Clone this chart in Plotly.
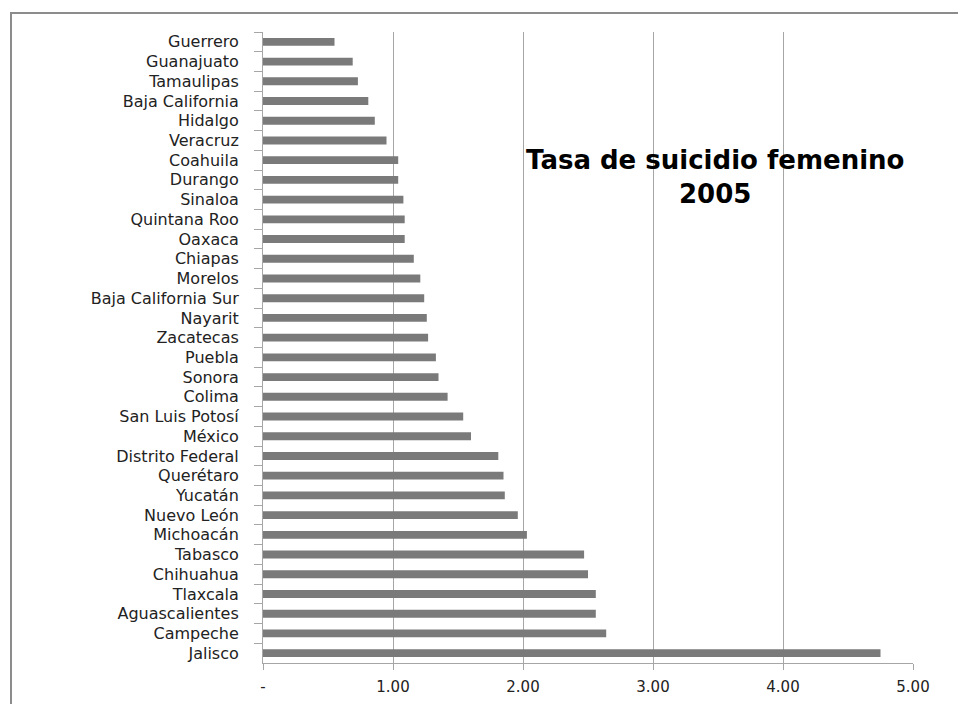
import plotly.graph_objects as go

states = ["Guerrero", "Guanajuato", "Tamaulipas", "Baja California", "Hidalgo",
          "Veracruz", "Coahuila", "Durango", "Sinaloa", "Quintana Roo", "Oaxaca",
          "Chiapas", "Morelos", "Baja California Sur", "Nayarit", "Zacatecas",
          "Puebla", "Sonora", "Colima", "San Luis Potosí", "México",
          "Distrito Federal", "Querétaro", "Yucatán", "Nuevo León", "Michoacán",
          "Tabasco", "Chihuahua", "Tlaxcala", "Aguascalientes", "Campeche", "Jalisco"]
rates = [0.55, 0.69, 0.73, 0.81, 0.86, 0.95, 1.04, 1.04, 1.08, 1.09, 1.09,
         1.16, 1.21, 1.24, 1.26, 1.27, 1.33, 1.35, 1.42, 1.54, 1.60,
         1.81, 1.85, 1.86, 1.96, 2.03, 2.47, 2.50, 2.56, 2.56, 2.64, 4.75]
x_ticks = [0, 1, 2, 3, 4, 5]
x_tick_text = ["-", "1.00", "2.00", "3.00", "4.00", "5.00"]
title_text = "<b>Tasa de suicidio femenino<br>2005</b>"

fig = go.Figure(go.Bar(
    x=rates, y=states, orientation="h",
    marker=dict(color="#7a7a7a", line=dict(width=0)),
    width=0.4,
))

W, H = 958, 704
L, R, T, B = 263, 45, 32, 41
pw, ph = W - L - R, H - T - B

fig.update_layout(
    width=W, height=H, autosize=False,
    margin=dict(l=L, r=R, t=T, b=B, pad=0, autoexpand=False),
    plot_bgcolor="white", paper_bgcolor="white",
    showlegend=False,
    font=dict(family="DejaVu Sans", size=16, color="#222222"),
    xaxis=dict(
        range=[0, 5], tickvals=x_ticks, ticktext=x_tick_text,
        showgrid=True, gridcolor="#a6a6a6", gridwidth=1,
        showline=True, linecolor="#a6a6a6", linewidth=1,
        ticks="outside", ticklen=6, tickcolor="#a6a6a6",
        zeroline=False, fixedrange=True, ticklabelstandoff=4,
        automargin=False, tickfont=dict(size=15),
    ),
    yaxis=dict(
        type="category", categoryorder="array", categoryarray=states,
        range=[len(states) - 0.5, -0.5],
        tickmode="linear", tick0=0, dtick=1,
        showline=True, linecolor="#a6a6a6", linewidth=1,
        ticks="outside", ticklen=8, tickcolor="#a6a6a6", tickson="boundaries",
        showgrid=False, ticklabelstandoff=20, automargin=False,
        tickfont=dict(size=16),
    ),
    annotations=[dict(
        text=title_text, xref="paper", yref="paper",
        x=(715 - L) / pw, y=(H - B - 177) / ph,
        xanchor="center", yanchor="middle", showarrow=False,
        font=dict(family="DejaVu Sans", size=26, color="#000000"),
    )],
    shapes=[dict(
        type="rect", xref="paper", yref="paper",
        x0=(11 - L) / pw, x1=1.3, y0=-0.3, y1=(H - B - 13) / ph,
        line=dict(color="#8c8c8c", width=2), layer="below",
    )],
)

fig.write_html(
    "out.html",
    config={"displayModeBar": False},
    post_script="document.body.style.margin='0';document.body.style.overflow='hidden';",
)
